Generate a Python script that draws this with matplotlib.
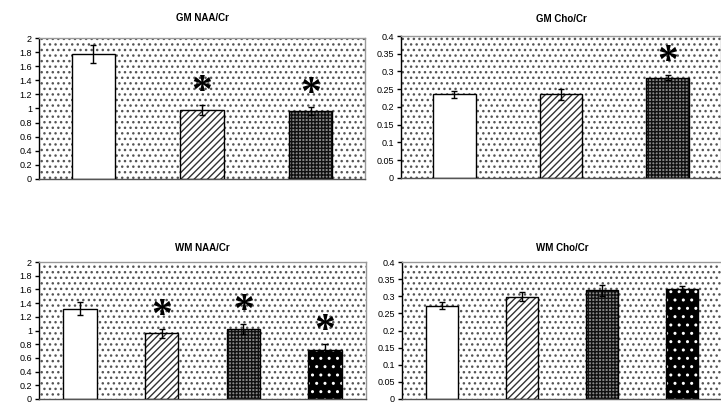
import matplotlib
matplotlib.use("Agg")
import matplotlib.pyplot as plt
from matplotlib.patches import Rectangle
from matplotlib.transforms import offset_copy
import numpy as np

plt.rcParams['font.family'] = ['Liberation Sans', 'DejaVu Sans']
plt.rcParams['hatch.linewidth'] = 1.0

# ---- data ----
titles = ["GM NAA/Cr", "GM Cho/Cr", "WM NAA/Cr", "WM Cho/Cr"]

gm_naa = [1.77, 0.98, 0.96]
gm_naa_err = [0.13, 0.075, 0.055]
gm_naa_sig = [False, True, True]

gm_cho = [0.236, 0.236, 0.283]
gm_cho_err = [0.010, 0.016, 0.007]
gm_cho_sig = [False, False, True]

wm_naa = [1.32, 0.96, 1.02, 0.72]
wm_naa_err = [0.10, 0.065, 0.075, 0.08]
wm_naa_sig = [False, True, True, True]

wm_cho = [0.272, 0.298, 0.317, 0.320]
wm_cho_err = [0.010, 0.013, 0.016, 0.010]
wm_cho_sig = [False, False, False, False]

naa_ticks = [0, 0.2, 0.4, 0.6, 0.8, 1, 1.2, 1.4, 1.6, 1.8, 2]
naa_labels = ["0", "0.2", "0.4", "0.6", "0.8", "1", "1.2", "1.4", "1.6", "1.8", "2"]
cho_ticks = [0, 0.05, 0.1, 0.15, 0.2, 0.25, 0.3, 0.35, 0.4]
cho_labels = ["0", "0.05", "0.1", "0.15", "0.2", "0.25", "0.3", "0.35", "0.4"]

# bar styles: (face, hatch, hatch colour)
styles = [
    ("white", None, "black"),
    ("white", "/////", "#333333"),
    ("#8a8a8a", "+++++", "#111111"),
    ("black", "..", "white"),
]

W, H = 721, 404
fig = plt.figure(figsize=(W / 100, H / 100), dpi=100)

panels = [
    (titles[0], gm_naa, gm_naa_err, gm_naa_sig, naa_ticks, naa_labels, 2.0,
     [39 / W, 1 - 179 / H, (365 - 39) / W, (179 - 38) / H], 12, 0.40),
    (titles[1], gm_cho, gm_cho_err, gm_cho_sig, cho_ticks, cho_labels, 0.4,
     [401 / W, 1 - 178 / H, (721 - 401) / W, (178 - 36) / H], 10, 0.40),
    (titles[2], wm_naa, wm_naa_err, wm_naa_sig, naa_ticks, naa_labels, 2.0,
     [39 / W, 1 - 399 / H, (366 - 39) / W, (399 - 262) / H], 8, 0.41),
    (titles[3], wm_cho, wm_cho_err, wm_cho_sig, cho_ticks, cho_labels, 0.4,
     [402 / W, 1 - 399 / H, (722 - 402) / W, (399 - 262) / H], 8, 0.41),
]

for title, vals, errs, sigs, ticks, labels, ymax, rect, pad, bw in panels:
    ax = fig.add_axes(rect)
    n = len(vals)
    x = np.arange(n)
    ax.set_xlim(-0.5, n - 0.5)
    ax.set_ylim(0, ymax)

    # dotted background
    bg = Rectangle((0, 0), 1, 1, transform=ax.transAxes, facecolor="white",
                   edgecolor="#555555", hatch="...", linewidth=0, zorder=0)
    ax.add_patch(bg)
    ax.patch.set_visible(False)

    for i in range(n):
        face, hatch, hc = styles[i]
        ax.bar(x[i], vals[i], width=bw, color=face, edgecolor=hc, hatch=hatch,
               linewidth=0, zorder=2)
        ax.bar(x[i], vals[i], width=bw, fill=False, edgecolor="black",
               linewidth=1.0, zorder=3)

    ax.errorbar(x, vals, yerr=errs, fmt="none", ecolor="black", elinewidth=1.0,
                capsize=2.0, capthick=1.0, zorder=4)

    tops = np.array(vals) + np.array(errs)
    trans = offset_copy(ax.transData, fig=fig, y=-5, units="points")
    for i in range(n):
        if sigs[i]:
            ax.text(x[i], tops[i], "*", transform=trans, ha="center", va="bottom",
                    fontsize=30, fontweight="bold", family="Liberation Serif",
                    color="black", zorder=5)

    ax.set_title(title, fontsize=7, fontweight="bold", pad=pad)
    ax.set_xticks([])
    ax.set_yticks(ticks)
    ax.set_yticklabels(labels)
    ax.tick_params(axis="y", direction="out", length=3, width=1, labelsize=6.5,
                   pad=2, colors="black")
    ax.spines["left"].set_color("black")
    ax.spines["left"].set_linewidth(1.0)
    ax.spines["bottom"].set_color("#555555")
    ax.spines["bottom"].set_linewidth(1.0)
    for s in ("top", "right"):
        ax.spines[s].set_color("#999999")
        ax.spines[s].set_linewidth(1.0)

fig.savefig("out.png", dpi=100)
